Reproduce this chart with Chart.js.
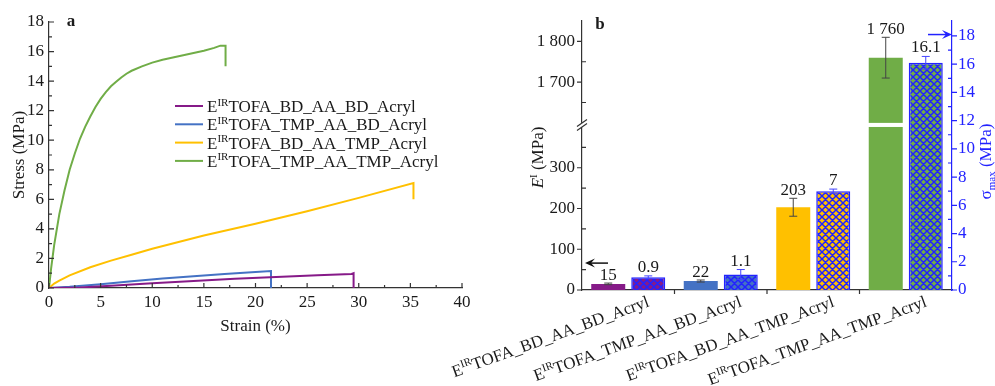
<!DOCTYPE html>
<html>
<head>
<meta charset="utf-8">
<script src="https://cdn.jsdelivr.net/npm/chart.js@4/dist/chart.umd.min.js"></script>
<style>
  html, body { margin: 0; padding: 0; background: #fff; }
  #wrap { position: relative; width: 995px; height: 386px; overflow: hidden; }
  #chartA { position: absolute; left: 0; top: 0; }
  #chartB { position: absolute; left: 430px; top: 0; }
</style>
</head>
<body>
<div id="wrap">
  <canvas id="chartA" width="495" height="386"></canvas>
  <canvas id="chartB" width="565" height="386"></canvas>
</div>
<script>
// ---- shared ----
const sampleNames = ['TOFA_BD_AA_BD_Acryl', 'TOFA_TMP_AA_BD_Acryl', 'TOFA_BD_AA_TMP_Acryl', 'TOFA_TMP_AA_TMP_Acryl'];
const seriesColors = ['#861a88', '#4472c4', '#ffc000', '#70ad47'];

// ---- panel a: stress-strain curves ----
const strainBdBd = [0, 3, 6, 10, 14, 18, 22, 26, 29.3, 29.5, 29.5];
const stressBdBd = [0, 0.03, 0.15, 0.32, 0.48, 0.62, 0.75, 0.87, 0.95, 1.0, 0];
const strainTmpBd = [0, 2, 5, 8, 11, 14, 17, 20, 21.5, 21.5];
const stressTmpBd = [0, 0.08, 0.25, 0.45, 0.65, 0.8, 0.95, 1.08, 1.15, 0];
const strainBdTmp = [0, 0.5, 1, 2, 4, 6, 8, 10, 15, 20, 25, 30, 35.3, 35.3];
const stressBdTmp = [0, 0.3, 0.5, 0.85, 1.4, 1.85, 2.25, 2.65, 3.55, 4.35, 5.2, 6.1, 7.1, 6.0];
const strainTmpTmp = [0, 0.2, 0.5, 1, 1.5, 2, 2.5, 3, 3.5, 4, 4.5, 5, 5.5, 6, 6.5, 7, 7.5, 8, 9, 10, 11, 12, 13, 14, 15, 16, 16.6, 17.1, 17.1];
const stressTmpTmp = [0, 1.3, 2.9, 5.0, 6.6, 8.0, 9.1, 10.1, 10.9, 11.6, 12.25, 12.8, 13.25, 13.65, 13.95, 14.25, 14.5, 14.7, 15.0, 15.25, 15.45, 15.6, 15.75, 15.9, 16.05, 16.25, 16.4, 16.4, 15.0];
const strainTicks = [0, 5, 10, 15, 20, 25, 30, 35, 40];
const stressTicksA = [0, 2, 4, 6, 8, 10, 12, 14, 16, 18];

// ---- panel b: modulus and max stress ----
const modulus = [15, 22, 203, 1760];
const modulusErr = [2, 2.5, 22, 50];
const maxStress = [0.9, 1.1, 7, 16.1];
const maxStressErr = [0.1, 0.35, 0.15, 0.45];
const modulusTicks = [0, 100, 200, 300, 1700, 1800];
const modulusMinor = [50, 150, 250, 350, 1650, 1750];
const stressTicksB = [0, 2, 4, 6, 8, 10, 12, 14, 16, 18];
const stressMinorB = [1, 3, 5, 7, 9, 11, 13, 15, 17];

const FONT = '"Liberation Serif", "Times New Roman", serif';
const INK = '#1a1a1a';
const AXIS = '#333';
const BLUE = '#2222ff';

// broken modulus axis: 0..400 then 1600..1850
const breakLow = 400, breakHigh = 1600, breakGap = 10;
function toAxis(v) { return v <= breakLow ? v : v - breakHigh + breakLow + breakGap; }
function fromAxis(t) { return t <= breakLow ? t : t - breakLow - breakGap + breakHigh; }
function fmtNum(v) { return String(v).replace(/\B(?=(\d{3})+(?!\d))/g, ' '); }

function drawRich(ctx, parts, x, y, align, size, color) {
  const fontFor = p => (p.bold ? 'bold ' : '') + (p.italic ? 'italic ' : '') +
    ((p.sup || p.sub) ? Math.round(size * 0.62) : size) + 'px ' + FONT;
  let w = 0;
  parts.forEach(p => { ctx.font = fontFor(p); w += ctx.measureText(p.t).width; });
  let cx = align === 'right' ? x - w : align === 'center' ? x - w / 2 : x;
  ctx.fillStyle = color;
  ctx.textAlign = 'left';
  ctx.textBaseline = 'alphabetic';
  parts.forEach(p => {
    ctx.font = fontFor(p);
    const dy = p.sup ? -size * 0.38 : p.sub ? size * 0.22 : 0;
    ctx.fillText(p.t, cx, y + dy);
    cx += ctx.measureText(p.t).width;
  });
}

function nameParts(name) { return [{ t: 'E' }, { t: 'IR', sup: true }, { t: name }]; }

function tickMarks(ctx, scale, values, len, color) {
  ctx.save();
  ctx.strokeStyle = color;
  ctx.lineWidth = 1.2;
  ctx.beginPath();
  values.forEach(v => {
    const p = scale.getPixelForValue(v);
    if (scale.isHorizontal()) {
      ctx.moveTo(p, scale.top); ctx.lineTo(p, scale.top + len);
    } else {
      const x0 = scale.position === 'left' ? scale.right : scale.left;
      ctx.moveTo(x0, p); ctx.lineTo(x0 + len, p);
    }
  });
  ctx.stroke();
  ctx.restore();
}

function arrow(ctx, x1, y, x2, color) {
  const dir = Math.sign(x2 - x1);
  ctx.save();
  ctx.strokeStyle = color; ctx.fillStyle = color; ctx.lineWidth = 1.5;
  ctx.beginPath(); ctx.moveTo(x1, y); ctx.lineTo(x2 - dir * 4, y); ctx.stroke();
  ctx.beginPath();
  ctx.moveTo(x2, y); ctx.lineTo(x2 - dir * 10, y - 4.5); ctx.lineTo(x2 - dir * 6, y); ctx.lineTo(x2 - dir * 10, y + 4.5);
  ctx.closePath(); ctx.fill();
  ctx.restore();
}

function hatch(color) {
  const s = 7;
  const c = document.createElement('canvas');
  c.width = s; c.height = s;
  const g = c.getContext('2d');
  g.fillStyle = color; g.fillRect(0, 0, s, s);
  g.strokeStyle = BLUE; g.lineWidth = 1.5;
  g.beginPath();
  [-s, 0, s].forEach(o => {
    g.moveTo(o, 0); g.lineTo(o + s, s);
    g.moveTo(o, s); g.lineTo(o + s, 0);
  });
  g.stroke();
  return g.createPattern(c, 'repeat');
}

const tickFont = { family: FONT, size: 17 };

// ---- chart a ----
const curves = [
  [strainBdBd, stressBdBd], [strainTmpBd, stressTmpBd], [strainBdTmp, stressBdTmp], [strainTmpTmp, stressTmpTmp]
];

const panelA = {
  id: 'panelA',
  afterDraw(chart) {
    const ctx = chart.ctx, x = chart.scales.x, y = chart.scales.y;
    const minorX = strainTicks.slice(0, -1).map(v => v + 2.5);
    const minorY = stressTicksA.slice(0, -1).map(v => v + 1);
    tickMarks(ctx, x, strainTicks, -5, AXIS);
    tickMarks(ctx, x, minorX, -3, AXIS);
    tickMarks(ctx, y, stressTicksA, 5, AXIS);
    tickMarks(ctx, y, minorY, 3, AXIS);

    // axis titles
    drawRich(ctx, [{ t: 'Strain (%)' }], (chart.chartArea.left + chart.chartArea.right) / 2, 331, 'center', 17, INK);
    ctx.save();
    ctx.translate(24, (chart.chartArea.top + chart.chartArea.bottom) / 2);
    ctx.rotate(-Math.PI / 2);
    drawRich(ctx, [{ t: 'Stress (MPa)' }], 0, 0, 'center', 17, INK);
    ctx.restore();

    drawRich(ctx, [{ t: 'a', bold: true }], 71, 26, 'center', 17, INK);

    // legend
    sampleNames.forEach((n, i) => {
      const cy = 106 + i * 18.3;
      ctx.save();
      ctx.strokeStyle = seriesColors[i]; ctx.lineWidth = 2;
      ctx.beginPath(); ctx.moveTo(175, cy); ctx.lineTo(203, cy); ctx.stroke();
      ctx.restore();
      drawRich(ctx, nameParts(n), 207, cy + 6, 'left', 17, INK);
    });
  }
};

new Chart(document.getElementById('chartA'), {
  type: 'line',
  data: {
    datasets: curves.map((c, i) => ({
      label: 'E\u1D35\u1D3F' + sampleNames[i],
      data: c[0].map((s, k) => ({ x: s, y: c[1][k] })),
      borderColor: seriesColors[i],
      borderWidth: 2,
      pointRadius: 0,
      tension: 0,
      fill: false
    }))
  },
  options: {
    responsive: false,
    animation: false,
    layout: { padding: { top: 22, right: 33, left: 0, bottom: 0 } },
    plugins: { legend: { display: false }, tooltip: { enabled: false } },
    scales: {
      x: {
        type: 'linear', min: 0, max: 40,
        afterBuildTicks: s => { s.ticks = strainTicks.map(v => ({ value: v })); },
        ticks: { font: tickFont, color: INK, padding: 4, maxRotation: 0 },
        grid: { display: false, drawTicks: false },
        border: { color: AXIS, width: 1.2 },
        afterFit: s => { s.height = 98; }
      },
      y: {
        min: 0, max: 18,
        afterBuildTicks: s => { s.ticks = stressTicksA.map(v => ({ value: v })); },
        ticks: { font: tickFont, color: INK, padding: 5 },
        grid: { display: false, drawTicks: false },
        border: { color: AXIS, width: 1.2 },
        afterFit: s => { s.width = 49; }
      }
    }
  },
  plugins: [panelA]
});

// ---- chart b ----
function errorBar(ctx, x, yTop, yBot, color) {
  ctx.save();
  ctx.strokeStyle = color; ctx.lineWidth = 1;
  ctx.beginPath();
  ctx.moveTo(x, yTop); ctx.lineTo(x, yBot);
  ctx.moveTo(x - 4, yTop); ctx.lineTo(x + 4, yTop);
  ctx.moveTo(x - 4, yBot); ctx.lineTo(x + 4, yBot);
  ctx.stroke();
  ctx.restore();
}

const panelB = {
  id: 'panelB',
  afterDatasetsDraw(chart) {
    const ctx = chart.ctx, yE = chart.scales.yE, yS = chart.scales.yS;
    const m0 = chart.getDatasetMeta(0), m1 = chart.getDatasetMeta(1);
    const gapTop = yE.getPixelForValue(breakLow + breakGap), gapBot = yE.getPixelForValue(breakLow);

    m0.data.forEach((bar, i) => {
      if (modulus[i] > breakLow) {
        ctx.fillStyle = '#fff';
        ctx.fillRect(bar.x - bar.width / 2 - 1, gapTop, bar.width + 2, gapBot - gapTop);
      }
      const t = yE.getPixelForValue(toAxis(modulus[i] + modulusErr[i]));
      const b = yE.getPixelForValue(toAxis(modulus[i] - modulusErr[i]));
      errorBar(ctx, bar.x, t, b, '#444');
      drawRich(ctx, [{ t: fmtNum(modulus[i]) }], bar.x, t - 3, 'center', 17, INK);
    });
    m1.data.forEach((bar, i) => {
      const t = yS.getPixelForValue(maxStress[i] + maxStressErr[i]);
      const b = yS.getPixelForValue(maxStress[i] - maxStressErr[i]);
      errorBar(ctx, bar.x, t, b, '#4444ff');
      drawRich(ctx, [{ t: String(maxStress[i]) }], bar.x, t - 4, 'center', 17, INK);
    });
  },
  afterDraw(chart) {
    const ctx = chart.ctx, x = chart.scales.x, yE = chart.scales.yE, yS = chart.scales.yS;
    const area = chart.chartArea;

    tickMarks(ctx, yE, modulusTicks.map(toAxis), -5, AXIS);
    tickMarks(ctx, yE, modulusMinor.map(toAxis), 4, AXIS);
    tickMarks(ctx, yS, stressTicksB, 5, BLUE);
    tickMarks(ctx, yS, stressMinorB, -4, BLUE);
    const bounds = sampleNames.slice(1).map((_, i) => i + 0.5);
    tickMarks(ctx, x, bounds, 4, AXIS);

    // axis break marks
    const gapTop = yE.getPixelForValue(breakLow + breakGap), gapBot = yE.getPixelForValue(breakLow);
    const ax = area.left;
    ctx.save();
    ctx.fillStyle = '#fff';
    ctx.fillRect(ax - 2, gapTop, 4, gapBot - gapTop);
    ctx.strokeStyle = AXIS; ctx.lineWidth = 1.2;
    ctx.beginPath();
    [gapTop, gapBot].forEach(yy => { ctx.moveTo(ax - 5, yy + 3.5); ctx.lineTo(ax + 5, yy - 3.5); });
    ctx.stroke();
    ctx.restore();

    // category labels
    sampleNames.forEach((n, i) => {
      const cx = x.getPixelForValue(i);
      ctx.save();
      ctx.translate(cx + 22, x.top + 16);
      ctx.rotate(-20 * Math.PI / 180);
      drawRich(ctx, nameParts(n), 0, 0, 'right', 17, INK);
      ctx.restore();
    });

    // axis titles
    const midY = (area.top + area.bottom) / 2;
    ctx.save();
    ctx.translate(113, midY + 2);
    ctx.rotate(-Math.PI / 2);
    drawRich(ctx, [{ t: 'E', italic: true }, { t: 'I', sup: true }, { t: ' (MPa)' }], 0, 0, 'center', 17, INK);
    ctx.restore();
    ctx.save();
    ctx.translate(561, midY + 6);
    ctx.rotate(-Math.PI / 2);
    drawRich(ctx, [{ t: '\u03C3' }, { t: 'max', sub: true }, { t: ' (MPa)' }], 0, 0, 'center', 17, BLUE);
    ctx.restore();

    drawRich(ctx, [{ t: 'b', bold: true }], area.left + 18, 29, 'center', 17, INK);

    // series-to-axis arrows
    arrow(ctx, area.left + 26, yE.getPixelForValue(66), area.left + 3, '#111');
    arrow(ctx, area.right - 24, yS.getPixelForValue(18.1), area.right, BLUE);
  }
};

new Chart(document.getElementById('chartB'), {
  type: 'bar',
  data: {
    labels: sampleNames,
    datasets: [
      {
        label: 'E (MPa)',
        data: modulus.map(toAxis),
        yAxisID: 'yE',
        backgroundColor: seriesColors,
        borderWidth: 0
      },
      {
        label: 'sigma max (MPa)',
        data: maxStress,
        yAxisID: 'yS',
        backgroundColor: seriesColors.map(hatch),
        borderColor: BLUE,
        borderWidth: 1.5
      }
    ]
  },
  options: {
    responsive: false,
    animation: false,
    categoryPercentage: 0.865,
    barPercentage: 0.85,
    layout: { padding: { top: 21, right: 0, left: 0, bottom: 0 } },
    plugins: { legend: { display: false }, tooltip: { enabled: false } },
    scales: {
      x: {
        ticks: { display: false },
        grid: { display: false, drawTicks: false },
        border: { color: AXIS, width: 1.2 },
        afterFit: s => { s.height = 96; }
      },
      yE: {
        position: 'left', min: 0, max: toAxis(1850),
        afterBuildTicks: s => { s.ticks = modulusTicks.map(v => ({ value: toAxis(v) })); },
        ticks: { font: tickFont, color: INK, padding: 7, callback: v => fmtNum(fromAxis(v)) },
        grid: { display: false, drawTicks: false },
        border: { color: AXIS, width: 1.2 },
        afterFit: s => { s.width = 152; }
      },
      yS: {
        position: 'right', min: 0, max: 19.06,
        afterBuildTicks: s => { s.ticks = stressTicksB.map(v => ({ value: v })); },
        ticks: { font: tickFont, color: BLUE, padding: 6 },
        grid: { display: false, drawTicks: false },
        border: { color: BLUE, width: 1.2 },
        afterFit: s => { s.width = 43; }
      }
    }
  },
  plugins: [panelB]
});
</script>
</body>
</html>
